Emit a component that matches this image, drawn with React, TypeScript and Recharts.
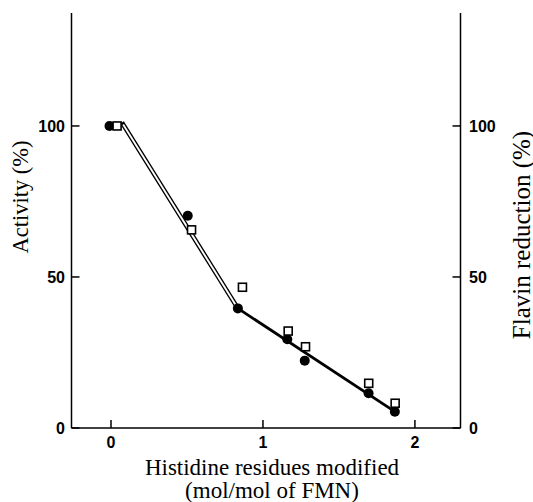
import React from 'react';
import { ComposedChart, Line, Scatter, XAxis, YAxis, Label } from 'recharts';

// Filled circles: activity (%)
const activityX = [-0.01, 0.505, 0.835, 1.16, 1.275, 1.695, 1.868];
const activityY = [100, 70.3, 39.6, 29.4, 22.3, 11.5, 5.4];
// Open squares: flavin reduction (%)
const flavinX = [0.04, 0.53, 0.865, 1.166, 1.28, 1.696, 1.87];
const flavinY = [100, 65.6, 46.6, 32.1, 26.9, 14.8, 8.2];
// Fitted lines
const steepFitX = [0.08, 0.835];
const steepFitY = [100.5, 39.6];
const shallowFitX = [0.835, 1.868];
const shallowFitY = [39.6, 5.4];
// Ticks
const xTicks = [0, 1, 2];
const yTicks = [0, 50, 100];
const xDomain: [number, number] = [-0.26, 2.3];
const yDomain: [number, number] = [0, 137.4];

const zip = (xs: number[], ys: number[]) => xs.map((x, i) => ({ x, y: ys[i] }));
const activity = zip(activityX, activityY);
const flavin = zip(flavinX, flavinY);
const steepFit = zip(steepFitX, steepFitY);
const shallowFit = zip(shallowFitX, shallowFitY);

const tickStyle = { fill: '#000', fontFamily: 'Liberation Sans', fontWeight: 700, fontSize: 16 };
const axisStroke = { stroke: '#000', strokeWidth: 1.5 };
const serif = 'Liberation Serif';

const Dot = (p: any) => <circle cx={p.cx} cy={p.cy} r={5} fill="#000" />;
const Box = (p: any) => (
  <rect x={p.cx - 4} y={p.cy - 4} width={8} height={8} fill="#fff" stroke="#000" strokeWidth={1.6} />
);

const XTitle = (props: any) => {
  const vb = props.viewBox || {};
  const cx = vb.x + vb.width / 2 + 6;
  return (
    <g>
      <text x={cx} y={vb.y + 47} fontFamily={serif} fontSize={23} fill="#000" textAnchor="middle">
        Histidine residues modified
      </text>
      <text x={cx} y={vb.y + 70} fontFamily={serif} fontSize={23} fill="#000" textAnchor="middle">
        (mol/mol of FMN)
      </text>
    </g>
  );
};

const LeftTitle = (props: any) => {
  const vb = props.viewBox || {};
  const cy = vb.y + 184;
  return (
    <text x={0} y={0} transform={`translate(28, ${cy}) rotate(-90)`} fontFamily={serif} fontSize={22.5} fill="#000" textAnchor="middle">
      Activity (%)
    </text>
  );
};

const RightTitle = (props: any) => {
  const vb = props.viewBox || {};
  const cy = vb.y + 222;
  return (
    <text x={0} y={0} transform={`translate(${vb.x + 69}, ${cy}) rotate(-90)`} fontFamily={serif} fontSize={25} fill="#000" textAnchor="middle">
      Flavin reduction (%)
    </text>
  );
};

export default function App() {
  return (
    <div style={{ position: 'absolute', left: 0, top: 0, width: 533, height: 502, background: '#fff', overflow: 'hidden' }}>
      <ComposedChart width={533} height={502} margin={{ top: 13, right: 0, bottom: 0, left: 0 }}>
        <XAxis
          xAxisId="bottom"
          dataKey="x"
          type="number"
          domain={xDomain}
          ticks={xTicks}
          allowDataOverflow
          orientation="bottom"
          height={74}
          tickSize={-8}
          tickMargin={17}
          tick={tickStyle}
          axisLine={axisStroke}
          tickLine={axisStroke}
        >
          <Label content={XTitle} />
        </XAxis>
        <XAxis
          xAxisId="top"
          dataKey="x"
          type="number"
          domain={xDomain}
          ticks={xTicks}
          allowDataOverflow
          orientation="top"
          height={0}
          tickSize={-8}
          tickFormatter={() => ''}
          axisLine={axisStroke}
          tickLine={axisStroke}
        />
        <YAxis
          yAxisId="left"
          dataKey="y"
          type="number"
          domain={yDomain}
          ticks={yTicks}
          allowDataOverflow
          orientation="left"
          width={71.5}
          tickSize={-8}
          tickMargin={14.5}
          tick={tickStyle}
          axisLine={axisStroke}
          tickLine={axisStroke}
        >
          <Label content={LeftTitle} />
        </YAxis>
        <YAxis
          yAxisId="right"
          dataKey="y"
          type="number"
          domain={yDomain}
          ticks={yTicks}
          allowDataOverflow
          orientation="right"
          width={72.5}
          tickSize={-8}
          tickMargin={16.5}
          tick={tickStyle}
          axisLine={axisStroke}
          tickLine={axisStroke}
        >
          <Label content={RightTitle} />
        </YAxis>
        <Line
          xAxisId="bottom"
          yAxisId="left"
          data={steepFit}
          dataKey="y"
          type="linear"
          stroke="#000"
          strokeWidth={4.6}
          strokeLinecap="square"
          dot={false}
          activeDot={false}
          isAnimationActive={false}
        />
        <Line
          xAxisId="bottom"
          yAxisId="left"
          data={steepFit}
          dataKey="y"
          type="linear"
          stroke="#fff"
          strokeWidth={1.9}
          dot={false}
          activeDot={false}
          isAnimationActive={false}
        />
        <Line
          xAxisId="bottom"
          yAxisId="left"
          data={shallowFit}
          dataKey="y"
          type="linear"
          stroke="#000"
          strokeWidth={2.8}
          dot={false}
          activeDot={false}
          isAnimationActive={false}
        />
        <Scatter xAxisId="bottom" yAxisId="left" data={activity} shape={Dot} isAnimationActive={false} />
        <Scatter xAxisId="bottom" yAxisId="right" data={flavin} shape={Box} isAnimationActive={false} />
      </ComposedChart>
    </div>
  );
}
